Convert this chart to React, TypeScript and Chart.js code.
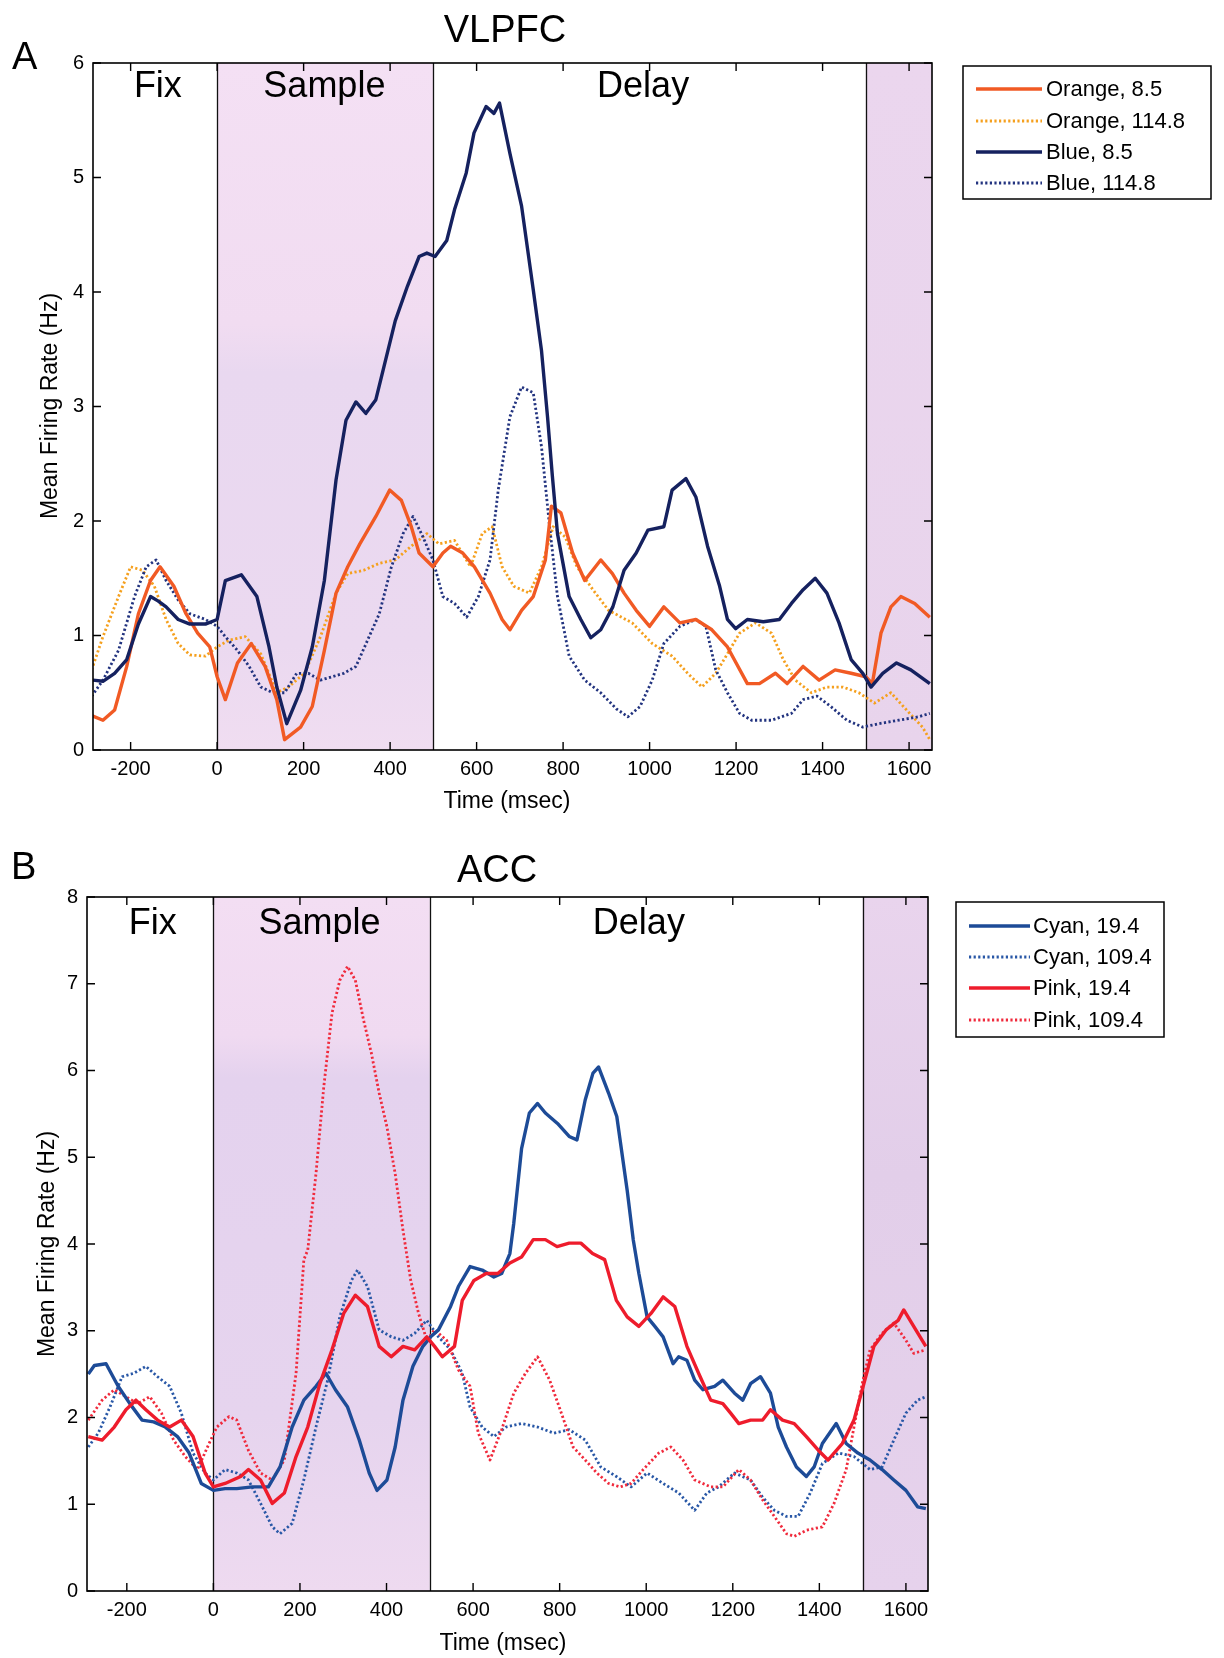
import React, { useEffect, useRef } from "react";
import { Chart, registerables } from "chart.js";

Chart.register(...registerables);

type Pt = [number, number];

const FONT = "'Liberation Sans', Arial, Helvetica, sans-serif";
const PAGE_W = 1224;

// ---------------- shared axis data ----------------
const timeTicks = [-200, 0, 200, 400, 600, 800, 1000, 1200, 1400, 1600];
const vlpfcRateTicks = [0, 1, 2, 3, 4, 5, 6];
const accRateTicks = [0, 1, 2, 3, 4, 5, 6, 7, 8];
const epochBounds = [0, 500, 1500];
const epochNames = ["Fix", "Sample", "Delay"];

// ---------------- Panel A: VLPFC (time ms, rate Hz) ----------------
const vlpfcLabels = ["Orange, 8.5", "Orange, 114.8", "Blue, 8.5", "Blue, 114.8"];

const vlpfcOrange85: Pt[] = [
  [-290, 0.3], [-264, 0.26], [-237, 0.35], [-209, 0.73], [-182, 1.19], [-154, 1.48], [-132, 1.6],
  [-100, 1.43], [-72, 1.19], [-45, 1.02], [-17, 0.9], [0, 0.64], [19, 0.44], [47, 0.76], [79, 0.93],
  [111, 0.73], [138, 0.44], [156, 0.09], [193, 0.2], [220, 0.38], [248, 0.87], [275, 1.37], [302, 1.6],
  [330, 1.8], [367, 2.04], [399, 2.27], [426, 2.18], [449, 1.95], [467, 1.72], [499, 1.6], [522, 1.72],
  [540, 1.78], [568, 1.72], [595, 1.6], [631, 1.37], [659, 1.14], [677, 1.05], [704, 1.22], [731, 1.34],
  [759, 1.66], [773, 2.13], [795, 2.07], [822, 1.72], [850, 1.48], [887, 1.66], [914, 1.54], [941, 1.37],
  [969, 1.22], [1000, 1.08], [1033, 1.25], [1070, 1.11], [1107, 1.14], [1144, 1.05], [1180, 0.9],
  [1226, 0.58], [1254, 0.58], [1291, 0.67], [1318, 0.58], [1355, 0.73], [1392, 0.61], [1429, 0.7],
  [1466, 0.67], [1500, 0.64], [1515, 0.58], [1535, 1.02], [1558, 1.25], [1581, 1.34], [1613, 1.28],
  [1648, 1.16],
];

const vlpfcOrange1148: Pt[] = [
  [-290, 0.7], [-264, 0.99], [-228, 1.34], [-200, 1.6], [-173, 1.57], [-145, 1.43], [-118, 1.14],
  [-90, 0.93], [-63, 0.83], [-27, 0.82], [0, 0.9], [28, 0.96], [65, 0.99], [101, 0.84], [138, 0.5],
  [165, 0.55], [202, 0.67], [239, 0.99], [275, 1.37], [302, 1.54], [339, 1.57], [375, 1.63], [412, 1.66],
  [449, 1.78], [485, 1.89], [513, 1.8], [549, 1.83], [586, 1.6], [613, 1.89], [636, 1.95], [659, 1.6],
  [686, 1.43], [722, 1.37], [750, 1.6], [777, 1.95], [805, 1.86], [832, 1.6], [869, 1.4], [905, 1.22],
  [960, 1.11], [1006, 0.93], [1052, 0.82], [1088, 0.67], [1121, 0.55], [1153, 0.67], [1180, 0.84],
  [1208, 1.02], [1245, 1.11], [1282, 1.02], [1309, 0.79], [1337, 0.61], [1374, 0.5], [1410, 0.55],
  [1447, 0.55], [1484, 0.5], [1520, 0.41], [1558, 0.5], [1594, 0.35], [1631, 0.2], [1648, 0.09],
];

const vlpfcBlue85: Pt[] = [
  [-287, 0.61], [-264, 0.6], [-237, 0.67], [-209, 0.79], [-182, 1.1], [-154, 1.34], [-136, 1.3],
  [-118, 1.25], [-90, 1.14], [-63, 1.1], [-27, 1.1], [0, 1.14], [19, 1.48], [56, 1.53], [92, 1.34],
  [120, 0.9], [138, 0.55], [161, 0.23], [193, 0.52], [220, 0.9], [248, 1.48], [275, 2.36], [298, 2.88],
  [321, 3.04], [344, 2.94], [367, 3.06], [412, 3.75], [440, 4.05], [467, 4.31], [485, 4.34], [504, 4.31],
  [531, 4.45], [549, 4.72], [576, 5.04], [594, 5.39], [622, 5.62], [640, 5.56], [653, 5.65], [677, 5.21],
  [704, 4.75], [731, 4.02], [750, 3.49], [764, 2.91], [775, 2.4], [787, 1.89], [814, 1.34], [841, 1.14],
  [864, 0.98], [887, 1.05], [915, 1.25], [941, 1.57], [969, 1.72], [996, 1.92], [1033, 1.95], [1052, 2.27],
  [1084, 2.37], [1107, 2.21], [1134, 1.78], [1162, 1.43], [1180, 1.14], [1199, 1.06], [1226, 1.14],
  [1263, 1.12], [1300, 1.14], [1328, 1.28], [1355, 1.4], [1383, 1.5], [1410, 1.37], [1438, 1.11],
  [1466, 0.79], [1493, 0.67], [1512, 0.55], [1539, 0.67], [1571, 0.76], [1604, 0.7], [1648, 0.58],
];

const vlpfcBlue1148: Pt[] = [
  [-290, 0.47], [-264, 0.61], [-228, 0.87], [-191, 1.34], [-164, 1.6], [-141, 1.66], [-118, 1.48],
  [-90, 1.31], [-63, 1.19], [-27, 1.14], [0, 1.08], [19, 0.99], [47, 0.87], [74, 0.73], [101, 0.55],
  [129, 0.5], [156, 0.5], [184, 0.67], [211, 0.67], [239, 0.61], [266, 0.64], [293, 0.67], [321, 0.73],
  [348, 0.96], [375, 1.19], [403, 1.6], [430, 1.89], [453, 2.04], [476, 1.86], [499, 1.66], [522, 1.34],
  [549, 1.28], [577, 1.16], [604, 1.34], [631, 1.66], [650, 2.27], [677, 2.91], [704, 3.17], [731, 3.12],
  [750, 2.65], [768, 1.98], [787, 1.34], [814, 0.82], [850, 0.61], [887, 0.5], [923, 0.36], [950, 0.29],
  [978, 0.38], [1006, 0.61], [1033, 0.93], [1070, 1.08], [1107, 1.14], [1130, 1.08], [1153, 0.7],
  [1180, 0.5], [1208, 0.32], [1236, 0.26], [1282, 0.26], [1328, 0.32], [1355, 0.44], [1387, 0.47],
  [1419, 0.38], [1456, 0.26], [1493, 0.2], [1530, 0.23], [1576, 0.26], [1622, 0.29], [1648, 0.32],
];

// ---------------- Panel B: ACC (time ms, rate Hz) ----------------
const accLabels = ["Cyan, 19.4", "Cyan, 109.4", "Pink, 19.4", "Pink, 109.4"];

const accCyan194: Pt[] = [
  [-289, 2.5], [-275, 2.6], [-248, 2.62], [-220, 2.36], [-193, 2.16], [-165, 1.97], [-138, 1.95],
  [-111, 1.89], [-83, 1.78], [-56, 1.59], [-28, 1.24], [0, 1.16], [27, 1.18], [54, 1.18], [90, 1.2],
  [127, 1.2], [154, 1.43], [182, 1.89], [209, 2.2], [237, 2.36], [260, 2.51], [282, 2.32], [310, 2.12],
  [337, 1.74], [360, 1.36], [378, 1.16], [401, 1.28], [420, 1.66], [438, 2.2], [461, 2.59], [484, 2.82],
  [502, 2.93], [520, 3.01], [548, 3.28], [566, 3.51], [593, 3.74], [621, 3.7], [648, 3.62], [666, 3.66],
  [685, 3.89], [694, 4.24], [712, 5.1], [730, 5.51], [749, 5.62], [767, 5.51], [795, 5.39], [822, 5.24],
  [840, 5.2], [859, 5.66], [877, 5.97], [890, 6.04], [913, 5.74], [932, 5.47], [956, 4.62], [970, 4.05],
  [983, 3.66], [1002, 3.16], [1020, 3.05], [1039, 2.93], [1062, 2.62], [1075, 2.7], [1094, 2.66],
  [1112, 2.43], [1131, 2.32], [1158, 2.36], [1177, 2.43], [1204, 2.28], [1223, 2.2], [1241, 2.39],
  [1264, 2.47], [1287, 2.28], [1305, 1.89], [1324, 1.66], [1347, 1.43], [1370, 1.32], [1388, 1.43],
  [1407, 1.7], [1439, 1.93], [1462, 1.7], [1489, 1.59], [1517, 1.51], [1545, 1.4], [1572, 1.28],
  [1600, 1.16], [1627, 0.97], [1646, 0.95],
];

const accCyan1094: Pt[] = [
  [-289, 1.66], [-266, 1.82], [-239, 2.12], [-211, 2.47], [-184, 2.51], [-156, 2.59], [-129, 2.47],
  [-101, 2.36], [-74, 2.05], [-47, 1.59], [-19, 1.36], [0, 1.28], [27, 1.4], [54, 1.36], [81, 1.28],
  [109, 1.01], [136, 0.74], [154, 0.66], [182, 0.78], [209, 1.28], [237, 1.89], [264, 2.43], [292, 3.16],
  [319, 3.58], [333, 3.7], [356, 3.51], [383, 3.01], [411, 2.93], [438, 2.89], [465, 2.97], [493, 3.12],
  [520, 2.93], [548, 2.78], [575, 2.51], [593, 2.12], [621, 1.89], [648, 1.78], [676, 1.89], [712, 1.93],
  [749, 1.89], [786, 1.82], [822, 1.86], [859, 1.74], [895, 1.43], [931, 1.32], [965, 1.2], [1002, 1.36],
  [1039, 1.24], [1075, 1.13], [1112, 0.93], [1140, 1.13], [1167, 1.2], [1204, 1.36], [1241, 1.28],
  [1269, 1.08], [1296, 0.93], [1324, 0.86], [1351, 0.86], [1379, 1.13], [1407, 1.47], [1444, 1.59],
  [1480, 1.55], [1517, 1.4], [1545, 1.43], [1572, 1.74], [1600, 2.05], [1627, 2.2], [1646, 2.24],
];

const accPink194: Pt[] = [
  [-289, 1.78], [-257, 1.74], [-229, 1.89], [-202, 2.09], [-179, 2.2], [-156, 2.09], [-129, 1.97],
  [-101, 1.89], [-74, 1.97], [-47, 1.78], [-19, 1.36], [0, 1.2], [27, 1.24], [63, 1.32], [81, 1.4],
  [109, 1.28], [136, 1.01], [164, 1.13], [191, 1.55], [218, 1.89], [246, 2.39], [274, 2.78], [301, 3.2],
  [328, 3.41], [356, 3.28], [383, 2.82], [411, 2.7], [438, 2.82], [465, 2.78], [493, 2.93], [511, 2.82],
  [529, 2.7], [557, 2.82], [575, 3.35], [602, 3.58], [630, 3.66], [657, 3.66], [685, 3.78], [712, 3.85],
  [739, 4.05], [767, 4.05], [794, 3.97], [822, 4.01], [849, 4.01], [876, 3.89], [904, 3.82], [931, 3.35],
  [956, 3.16], [983, 3.05], [1011, 3.2], [1039, 3.39], [1066, 3.28], [1094, 2.82], [1121, 2.51],
  [1149, 2.2], [1177, 2.16], [1195, 2.05], [1214, 1.93], [1241, 1.97], [1269, 1.97], [1287, 2.09],
  [1315, 1.97], [1342, 1.93], [1370, 1.78], [1398, 1.62], [1420, 1.51], [1453, 1.7], [1480, 1.97],
  [1499, 2.32], [1526, 2.82], [1554, 3.01], [1582, 3.12], [1595, 3.24], [1618, 3.05], [1646, 2.82],
];

const accPink1094: Pt[] = [
  [-289, 1.97], [-257, 2.2], [-229, 2.32], [-202, 2.24], [-175, 2.16], [-147, 2.24], [-120, 2.05],
  [-92, 1.74], [-65, 1.55], [-37, 1.4], [-10, 1.7], [8, 1.89], [36, 2.01], [54, 1.97], [81, 1.62],
  [109, 1.36], [136, 1.28], [164, 1.51], [191, 2.51], [209, 3.82], [218, 3.93], [237, 4.81], [255, 5.81],
  [274, 6.66], [292, 7.04], [310, 7.2], [328, 7.04], [347, 6.58], [365, 6.2], [383, 5.74], [401, 5.35],
  [420, 4.81], [438, 4.16], [456, 3.58], [474, 3.2], [493, 2.89], [511, 3.01], [539, 2.89], [566, 2.55],
  [593, 2.36], [612, 1.82], [639, 1.51], [666, 1.86], [694, 2.28], [721, 2.51], [749, 2.7], [777, 2.43],
  [804, 2.05], [831, 1.66], [859, 1.51], [886, 1.36], [913, 1.24], [940, 1.2], [965, 1.24], [993, 1.4],
  [1029, 1.59], [1057, 1.66], [1085, 1.51], [1112, 1.28], [1149, 1.2], [1177, 1.2], [1214, 1.4],
  [1241, 1.28], [1269, 1.05], [1296, 0.86], [1324, 0.66], [1342, 0.63], [1370, 0.7], [1407, 0.74],
  [1434, 1.01], [1462, 1.4], [1480, 1.89], [1499, 2.39], [1517, 2.78], [1545, 2.97], [1572, 3.09],
  [1600, 2.89], [1618, 2.74], [1646, 2.78],
];

// ---------------- styling / layout ----------------
type SeriesStyle = { color: string; width: number; dash: number[] };
const solidW = 3.4;
const dotW = 2.8;
const dotDash = [2.2, 2.4];

type PanelCfg = {
  top: number;
  height: number;
  area: { l: number; t: number; r: number; b: number };
  xMin: number;
  xMax: number;
  yTicks: number[];
  series: Pt[][];
  labels: string[];
  styles: SeriesStyle[];
  title: string;
  titleX: number;
  titleY: number;
  letter: string;
  letterX: number;
  letterY: number;
  phaseX: number[]; // in time units
  phaseY: number;
  xTitleX: number;
  xTitleY: number;
  yTitleX: number;
  yTitleY: number;
  legendBox: { l: number; t: number; r: number; b: number };
  legendRows: number[];
  legendLine: [number, number];
  legendText: number;
  sampleStops: [number, string][];
  lateStops: [number, string][];
};

const panelA: PanelCfg = {
  top: 0,
  height: 830,
  area: { l: 93, t: 63, r: 932, b: 750 },
  xMin: -287,
  xMax: 1653,
  yTicks: vlpfcRateTicks,
  series: [vlpfcOrange85, vlpfcOrange1148, vlpfcBlue85, vlpfcBlue1148],
  labels: vlpfcLabels,
  styles: [
    { color: "#f15a24", width: solidW, dash: [] },
    { color: "#f5a01e", width: dotW, dash: dotDash },
    { color: "#15215f", width: solidW, dash: [] },
    { color: "#22337f", width: dotW, dash: dotDash },
  ],
  title: "VLPFC",
  titleX: 505,
  titleY: 42,
  letter: "A",
  letterX: 12,
  letterY: 69,
  phaseX: [-137, 248, 985],
  phaseY: 97,
  xTitleX: 507,
  xTitleY: 808,
  yTitleX: 51,
  yTitleY: 406,
  legendBox: { l: 963, t: 66, r: 1211, b: 199 },
  legendRows: [89, 121, 152, 183],
  legendLine: [976, 1042],
  legendText: 1046,
  sampleStops: [
    [0, "rgb(244,224,244)"],
    [0.38, "rgb(241,220,241)"],
    [0.45, "rgb(233,216,240)"],
    [0.85, "rgb(235,217,240)"],
    [1, "rgb(240,221,241)"],
  ],
  lateStops: [
    [0, "rgb(235,214,238)"],
    [1, "rgb(232,212,236)"],
  ],
};

const panelB: PanelCfg = {
  top: 830,
  height: 828,
  area: { l: 87, t: 67, r: 928, b: 761 },
  xMin: -292,
  xMax: 1651,
  yTicks: accRateTicks,
  series: [accCyan194, accCyan1094, accPink194, accPink1094],
  labels: accLabels,
  styles: [
    { color: "#1d4b97", width: solidW, dash: [] },
    { color: "#2857a6", width: dotW, dash: dotDash },
    { color: "#ee1c2c", width: solidW, dash: [] },
    { color: "#f02a3c", width: dotW, dash: dotDash },
  ],
  title: "ACC",
  titleX: 497,
  titleY: 52,
  letter: "B",
  letterX: 11,
  letterY: 49,
  phaseX: [-140, 245, 983],
  phaseY: 104,
  xTitleX: 503,
  xTitleY: 820,
  yTitleX: 48,
  yTitleY: 414,
  legendBox: { l: 956, t: 72, r: 1164, b: 207 },
  legendRows: [96, 127, 158, 190],
  legendLine: [969, 1030],
  legendText: 1033,
  sampleStops: [
    [0, "rgb(243,222,243)"],
    [0.2, "rgb(240,218,241)"],
    [0.26, "rgb(228,210,238)"],
    [0.75, "rgb(230,212,238)"],
    [1, "rgb(238,218,240)"],
  ],
  lateStops: [
    [0, "rgb(233,212,237)"],
    [0.4, "rgb(226,206,233)"],
    [1, "rgb(230,210,236)"],
  ],
};

function makePlugin(cfg: PanelCfg) {
  return {
    id: "panelDecor" + cfg.letter,
    beforeDatasetsDraw(chart: any) {
      const ctx: CanvasRenderingContext2D = chart.ctx;
      const { right, top, bottom } = chart.chartArea;
      const xs = chart.scales.x;
      const fillRegion = (x0: number, x1: number, stops: [number, string][]) => {
        const g = ctx.createLinearGradient(0, top, 0, bottom);
        stops.forEach(([o, c]) => g.addColorStop(o, c));
        ctx.fillStyle = g;
        ctx.fillRect(x0, top, x1 - x0, bottom - top);
      };
      ctx.save();
      fillRegion(xs.getPixelForValue(epochBounds[0]), xs.getPixelForValue(epochBounds[1]), cfg.sampleStops);
      fillRegion(xs.getPixelForValue(epochBounds[2]), right, cfg.lateStops);
      ctx.strokeStyle = "#111";
      ctx.lineWidth = 1.3;
      epochBounds.forEach((b) => {
        const px = Math.round(xs.getPixelForValue(b)) + 0.5;
        ctx.beginPath();
        ctx.moveTo(px, top);
        ctx.lineTo(px, bottom);
        ctx.stroke();
      });
      ctx.restore();
    },
    afterDraw(chart: any) {
      const ctx: CanvasRenderingContext2D = chart.ctx;
      const { left, right, top, bottom } = chart.chartArea;
      const xs = chart.scales.x;
      const ys = chart.scales.y;
      ctx.save();
      // frame
      ctx.strokeStyle = "#000";
      ctx.lineWidth = 1.6;
      ctx.strokeRect(left, top, right - left, bottom - top);
      // inward ticks
      const tl = 8;
      ctx.lineWidth = 1.4;
      timeTicks.forEach((v) => {
        const px = xs.getPixelForValue(v);
        ctx.beginPath();
        ctx.moveTo(px, bottom);
        ctx.lineTo(px, bottom - tl);
        ctx.moveTo(px, top);
        ctx.lineTo(px, top + tl);
        ctx.stroke();
      });
      cfg.yTicks.forEach((v) => {
        const py = ys.getPixelForValue(v);
        ctx.beginPath();
        ctx.moveTo(left, py);
        ctx.lineTo(left + tl, py);
        ctx.moveTo(right, py);
        ctx.lineTo(right - tl, py);
        ctx.stroke();
      });
      ctx.fillStyle = "#000";
      // phase labels
      ctx.font = `36px ${FONT}`;
      ctx.textAlign = "center";
      ctx.textBaseline = "alphabetic";
      epochNames.forEach((n, i) => {
        ctx.fillText(n, xs.getPixelForValue(cfg.phaseX[i]), cfg.phaseY);
      });
      // title
      ctx.font = `38px ${FONT}`;
      ctx.fillText(cfg.title, cfg.titleX, cfg.titleY);
      // letter
      ctx.textAlign = "left";
      ctx.font = `38px ${FONT}`;
      ctx.fillText(cfg.letter, cfg.letterX, cfg.letterY);
      // axis titles
      ctx.font = `23px ${FONT}`;
      ctx.textAlign = "center";
      ctx.fillText("Time (msec)", cfg.xTitleX, cfg.xTitleY);
      ctx.save();
      ctx.translate(cfg.yTitleX, cfg.yTitleY);
      ctx.rotate(-Math.PI / 2);
      ctx.textBaseline = "middle";
      ctx.font = `23px ${FONT}`;
      ctx.fillText("Mean Firing Rate (Hz)", 0, 0);
      ctx.restore();
      // legend
      const lb = cfg.legendBox;
      ctx.fillStyle = "#fff";
      ctx.fillRect(lb.l, lb.t, lb.r - lb.l, lb.b - lb.t);
      ctx.strokeStyle = "#000";
      ctx.lineWidth = 1.5;
      ctx.strokeRect(lb.l, lb.t, lb.r - lb.l, lb.b - lb.t);
      ctx.font = `22px ${FONT}`;
      ctx.textAlign = "left";
      ctx.textBaseline = "middle";
      chart.data.datasets.forEach((ds: any, i: number) => {
        const y = cfg.legendRows[i];
        ctx.strokeStyle = ds.borderColor;
        ctx.lineWidth = ds.borderWidth;
        ctx.setLineDash(ds.borderDash || []);
        ctx.beginPath();
        ctx.moveTo(cfg.legendLine[0], y);
        ctx.lineTo(cfg.legendLine[1], y);
        ctx.stroke();
        ctx.setLineDash([]);
        ctx.fillStyle = "#000";
        ctx.fillText(ds.label, cfg.legendText, y + 1);
      });
      ctx.restore();
    },
  };
}

function Panel({ cfg }: { cfg: PanelCfg }) {
  const ref = useRef<HTMLCanvasElement>(null);
  useEffect(() => {
    const canvas = ref.current!;
    const H = cfg.height;
    const chart = new Chart(canvas, {
      type: "line",
      data: {
        datasets: cfg.series.map((pts, i) => ({
          label: cfg.labels[i],
          data: pts.map(([x, y]) => ({ x, y })),
          borderColor: cfg.styles[i].color,
          borderWidth: cfg.styles[i].width,
          borderDash: cfg.styles[i].dash,
          borderCapStyle: "butt",
          borderJoinStyle: "round",
          pointRadius: 0,
          tension: 0,
          fill: false,
          order: i < 2 ? (i === 0 ? 1 : 3) : i === 2 ? 0 : 2,
        })) as any,
      },
      options: {
        responsive: false,
        animation: false,
        devicePixelRatio: 1,
        events: [],
        layout: {
          padding: { left: 0, top: cfg.area.t, right: PAGE_W - cfg.area.r, bottom: 0 },
        },
        plugins: {
          legend: { display: false },
          title: { display: false },
          tooltip: { enabled: false },
        },
        scales: {
          x: {
            type: "linear",
            min: cfg.xMin,
            max: cfg.xMax,
            grid: { display: false, drawTicks: false },
            border: { display: false },
            ticks: {
              color: "#000",
              font: { family: FONT, size: 20 },
              padding: 7,
              maxRotation: 0,
              autoSkip: false,
              callback: (v: any) => String(v),
            },
            afterBuildTicks: (axis: any) => {
              axis.ticks = timeTicks.map((v) => ({ value: v }));
            },
            afterFit: (axis: any) => {
              axis.height = H - cfg.area.b;
            },
          },
          y: {
            type: "linear",
            min: cfg.yTicks[0],
            max: cfg.yTicks[cfg.yTicks.length - 1],
            grid: { display: false, drawTicks: false },
            border: { display: false },
            ticks: {
              color: "#000",
              font: { family: FONT, size: 20 },
              padding: 9,
              autoSkip: false,
              callback: (v: any) => String(v),
            },
            afterBuildTicks: (axis: any) => {
              axis.ticks = cfg.yTicks.map((v) => ({ value: v }));
            },
            afterFit: (axis: any) => {
              axis.width = cfg.area.l;
            },
          },
        },
      } as any,
      plugins: [makePlugin(cfg) as any],
    });
    return () => chart.destroy();
  }, [cfg]);
  return (
    <canvas
      ref={ref}
      width={PAGE_W}
      height={cfg.height}
      style={{ position: "absolute", left: 0, top: cfg.top, width: PAGE_W, height: cfg.height, display: "block" }}
    />
  );
}

export default function App() {
  return (
    <div
      style={{
        position: "absolute",
        left: 0,
        top: 0,
        width: PAGE_W,
        height: 1658,
        background: "#fff",
        overflow: "hidden",
      }}
    >
      <Panel cfg={panelA} />
      <Panel cfg={panelB} />
    </div>
  );
}
